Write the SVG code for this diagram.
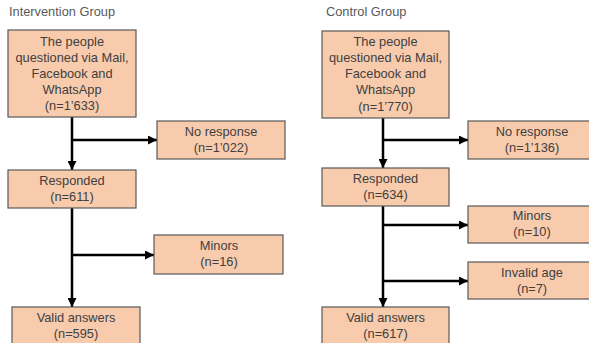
<svg xmlns="http://www.w3.org/2000/svg" width="589" height="343" viewBox="0 0 589 343">
<defs>
<style>
.box{fill:#F8CBAD;stroke:#595959;stroke-width:1.2}
.t{font-family:"Liberation Sans",Arial,sans-serif;font-size:12.8px;fill:#404040;text-anchor:middle}
.title{font-family:"Liberation Sans",Arial,sans-serif;font-size:12.8px;fill:#595959}
.c{stroke:#000;stroke-width:2.5;fill:none}
</style>
<marker id="ah" viewBox="0 0 10 10" refX="10" refY="5" markerWidth="3.6" markerHeight="3.6" markerUnits="strokeWidth" orient="auto">
<path d="M0,0 L10,5 L0,10 z" fill="#000"/>
</marker>
</defs>
<rect width="589" height="343" fill="#fff"/>
<text class="title" x="9" y="16">Intervention Group</text>
<text class="title" x="326" y="16">Control Group</text>
<g id="connectors">
<path class="c" d="M72,117 V170" marker-end="url(#ah)"/>
<path class="c" d="M72,140 H157" marker-end="url(#ah)"/>
<path class="c" d="M72,208 V307" marker-end="url(#ah)"/>
<path class="c" d="M72,255 H154" marker-end="url(#ah)"/>
<path class="c" d="M383,118 V168" marker-end="url(#ah)"/>
<path class="c" d="M383,140 H468" marker-end="url(#ah)"/>
<path class="c" d="M383,206 V307" marker-end="url(#ah)"/>
<path class="c" d="M383,225 H468" marker-end="url(#ah)"/>
<path class="c" d="M383,281 H468" marker-end="url(#ah)"/>
</g>
<g id="i_people">
<rect class="box" x="8" y="30" width="128" height="87"/>
<text class="t" x="72" y="46">The people</text>
<text class="t" x="72" y="62">questioned via Mail,</text>
<text class="t" x="72" y="78">Facebook and</text>
<text class="t" x="72" y="94">WhatsApp</text>
<text class="t" x="72" y="110">(n=1’633)</text>
</g>
<g id="i_noresp">
<rect class="box" x="157" y="121" width="128" height="38"/>
<text class="t" x="221" y="136">No response</text>
<text class="t" x="221" y="152">(n=1’022)</text>
</g>
<g id="i_resp">
<rect class="box" x="8" y="170" width="128" height="38"/>
<text class="t" x="72" y="185">Responded</text>
<text class="t" x="72" y="201">(n=611)</text>
</g>
<g id="i_minors">
<rect class="box" x="154" y="235" width="129" height="39"/>
<text class="t" x="219" y="250">Minors</text>
<text class="t" x="219" y="266">(n=16)</text>
</g>
<g id="i_valid">
<rect class="box" x="12" y="307" width="128" height="45"/>
<text class="t" x="76" y="322">Valid answers</text>
<text class="t" x="76" y="338">(n=595)</text>
</g>
<g id="c_people">
<rect class="box" x="322" y="31" width="127" height="87"/>
<text class="t" x="385.5" y="46">The people</text>
<text class="t" x="385.5" y="62">questioned via Mail,</text>
<text class="t" x="385.5" y="78">Facebook and</text>
<text class="t" x="385.5" y="94">WhatsApp</text>
<text class="t" x="385.5" y="111">(n=1’770)</text>
</g>
<g id="c_noresp">
<rect class="box" x="468" y="121" width="129" height="38"/>
<text class="t" x="532" y="136">No response</text>
<text class="t" x="532" y="152">(n=1’136)</text>
</g>
<g id="c_resp">
<rect class="box" x="322" y="168" width="127" height="38"/>
<text class="t" x="385.5" y="183">Responded</text>
<text class="t" x="385.5" y="199">(n=634)</text>
</g>
<g id="c_minors">
<rect class="box" x="468" y="206" width="129" height="37"/>
<text class="t" x="532" y="220">Minors</text>
<text class="t" x="532" y="236">(n=10)</text>
</g>
<g id="c_invalid">
<rect class="box" x="468" y="262" width="129" height="37"/>
<text class="t" x="532" y="277">Invalid age</text>
<text class="t" x="532" y="293">(n=7)</text>
</g>
<g id="c_valid">
<rect class="box" x="322" y="307" width="127" height="45"/>
<text class="t" x="385.5" y="322">Valid answers</text>
<text class="t" x="385.5" y="338">(n=617)</text>
</g>
</svg>
